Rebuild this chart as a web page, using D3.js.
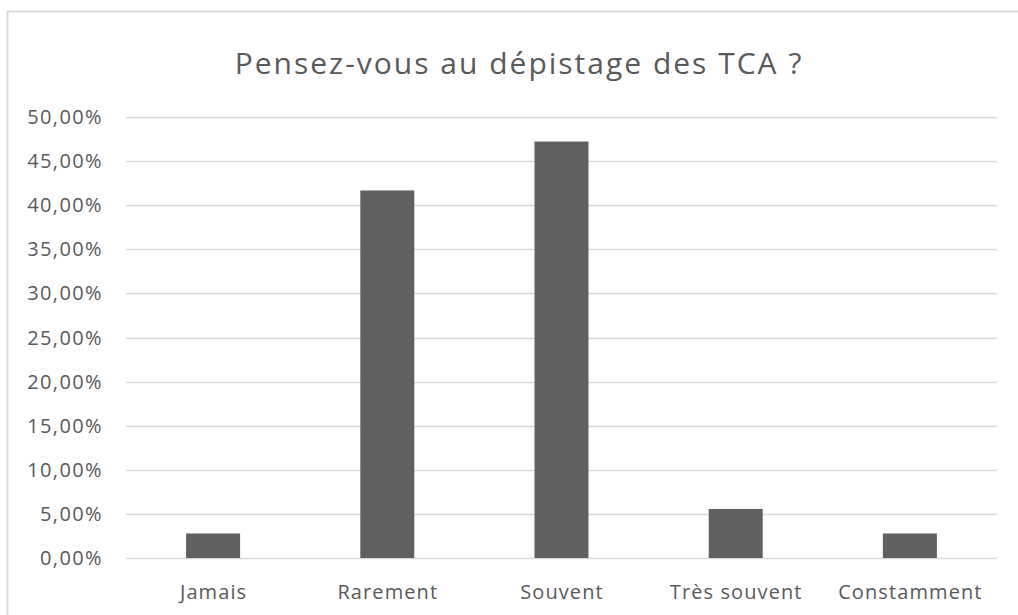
<!DOCTYPE html>
<html>
<head>
<meta charset="utf-8">
<script src="https://cdn.jsdelivr.net/npm/d3@7"></script>
<style>
  body { margin: 0; background: #fff; }
  text { font-family: "Open Sans", "Noto Sans", sans-serif; fill: #595959; }
</style>
</head>
<body>
<div id="chart"></div>
<script>
  // Data (36 answers)
  var categories = ["Jamais", "Rarement", "Souvent", "Très souvent", "Constamment"];
  var values = [0.0278, 0.4167, 0.4722, 0.0556, 0.0278];
  var yTicks = [0, 0.05, 0.10, 0.15, 0.20, 0.25, 0.30, 0.35, 0.40, 0.45, 0.50];
  var title = "Pensez-vous au dépistage des TCA ?";

  var width = 1018;
  var height = 615;
  var margin = { top: 117, right: 21, bottom: 57, left: 126 };

  var fr = d3.formatLocale({ decimal: ",", thousands: " ", grouping: [3], currency: ["", " €"] });
  var pct = fr.format(".2%");

  var svg = d3.select("#chart")
    .append("svg")
    .attr("width", width)
    .attr("height", height);

  // outer chart frame
  svg.append("rect")
    .attr("x", 7.5)
    .attr("y", 11.5)
    .attr("width", 1100)
    .attr("height", 700)
    .attr("fill", "none")
    .attr("stroke", "#d9d9d9")
    .attr("stroke-width", 2);

  var xScale = d3.scaleBand()
    .domain(categories)
    .range([margin.left, width - margin.right])
    .padding(0);

  var yScale = d3.scaleLinear()
    .domain([0, 0.5])
    .range([height - margin.bottom, margin.top]);

  // gridlines
  svg.append("g")
    .selectAll("line")
    .data(yTicks)
    .enter()
    .append("line")
    .attr("x1", margin.left)
    .attr("x2", width - margin.right)
    .attr("y1", function(d) { return Math.round(yScale(d)) + 0.5; })
    .attr("y2", function(d) { return Math.round(yScale(d)) + 0.5; })
    .attr("stroke", "#d9d9d9")
    .attr("stroke-width", 1.5);

  // y labels
  svg.append("g")
    .selectAll("text")
    .data(yTicks)
    .enter()
    .append("text")
    .text(function(d) { return pct(d); })
    .attr("x", 103)
    .attr("y", function(d) { return yScale(d); })
    .attr("dy", "0.35em")
    .attr("text-anchor", "end")
    .attr("font-size", "20px")
    .attr("letter-spacing", "1.4px");

  // bars
  var barWidth = xScale.bandwidth() * 0.31;
  svg.append("g")
    .selectAll("rect")
    .data(values)
    .enter()
    .append("rect")
    .attr("x", function(d, i) { return xScale(categories[i]) + xScale.bandwidth() / 2 - barWidth / 2; })
    .attr("y", function(d) { return yScale(d); })
    .attr("width", barWidth)
    .attr("height", function(d) { return yScale(0) - yScale(d); })
    .attr("fill", "#606060");

  // x labels
  svg.append("g")
    .selectAll("text")
    .data(categories)
    .enter()
    .append("text")
    .text(function(d) { return d; })
    .attr("x", function(d) { return xScale(d) + xScale.bandwidth() / 2 + 0.5; })
    .attr("y", 599)
    .attr("text-anchor", "middle")
    .attr("font-size", "20px")
    .attr("letter-spacing", "1.1px");

  // title
  svg.append("text")
    .text(title)
    .attr("x", 519)
    .attr("y", 74)
    .attr("text-anchor", "middle")
    .attr("font-size", "30px")
    .attr("letter-spacing", "2px");
</script>
</body>
</html>
